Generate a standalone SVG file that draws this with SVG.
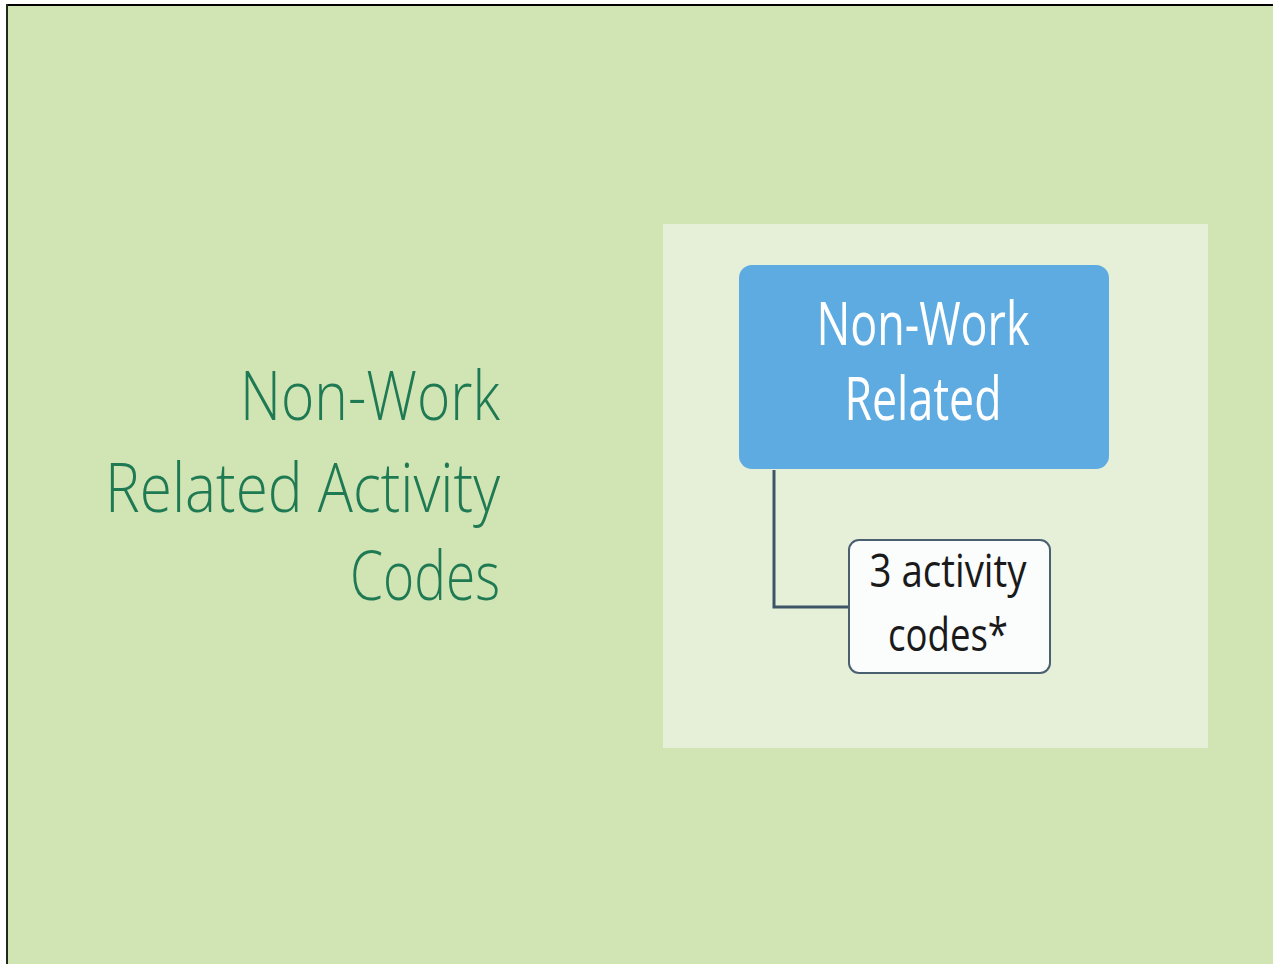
<svg xmlns="http://www.w3.org/2000/svg" width="1273" height="964" viewBox="0 0 1273 964">
<style>
.title{font-family:"Open Sans","Liberation Sans",sans-serif;font-weight:300;font-size:68px;fill:#1F7A54;text-anchor:end}
.main{font-family:"Open Sans","Liberation Sans",sans-serif;font-size:60px;fill:#ffffff;text-anchor:middle}
.sub{font-family:"Open Sans","Liberation Sans",sans-serif;font-size:46px;fill:#1a1a1a;text-anchor:middle}
</style>
<rect x="0" y="0" width="1273" height="964" fill="#ffffff"/>
<rect x="7" y="5" width="1266" height="959" fill="#D0E4B4"/>
<line x1="6" y1="5" x2="1273" y2="5" stroke="#000" stroke-width="2"/>
<line x1="7" y1="4" x2="7" y2="964" stroke="#1e2a1a" stroke-width="2"/>
<g id="title">
<text class="title" x="500" y="420" textLength="260" lengthAdjust="spacingAndGlyphs">Non-Work</text>
<text class="title" x="500" y="512" textLength="395" lengthAdjust="spacingAndGlyphs">Related Activity</text>
<text class="title" x="500" y="600" textLength="150" lengthAdjust="spacingAndGlyphs">Codes</text>
</g>
<g id="panel">
<rect x="663" y="224" width="545" height="524" fill="#E6F0D8"/>
</g>
<g id="connectors">
<polyline points="774,470 774,607 849,607" fill="none" stroke="#3D5566" stroke-width="3"/>
</g>
<g id="node-main">
<rect x="739" y="265" width="370" height="204" rx="13" fill="#5DABE1"/>
<text class="main" x="923" y="345" textLength="213" lengthAdjust="spacingAndGlyphs">Non-Work</text>
<text class="main" x="923" y="420" textLength="157" lengthAdjust="spacingAndGlyphs">Related</text>
</g>
<g id="node-codes">
<rect x="849" y="540" width="201" height="133" rx="10" fill="#FBFDFD" stroke="#4A6070" stroke-width="2"/>
<text class="sub" x="948" y="587" textLength="157" lengthAdjust="spacingAndGlyphs">3 activity</text>
<text class="sub" x="948" y="651" textLength="120" lengthAdjust="spacingAndGlyphs">codes*</text>
</g>
</svg>
